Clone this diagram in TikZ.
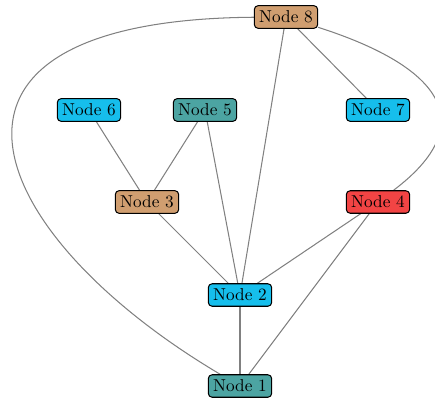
\documentclass[tikz,border=0pt]{standalone}
\usetikzlibrary{backgrounds}
\begin{document}
\begin{tikzpicture}[x=0.58pt,y=-0.58pt,
  nd/.style={draw=black,line width=0.6pt,rounded corners=2.2pt,inner xsep=2.8pt,inner ysep=3pt,minimum height=12.8pt,font=\fontsize{10}{12}\selectfont},
  tan/.style={nd,fill=tanc}, cyn/.style={nd,fill=cync}, tea/.style={nd,fill=teac}, rd/.style={nd,fill=redc},
  ed/.style={draw=gray,line width=0.6pt}]
\definecolor{tanc}{RGB}{208,158,112}
\definecolor{cync}{RGB}{22,190,236}
\definecolor{teac}{RGB}{76,164,162}
\definecolor{redc}{RGB}{242,68,68}
\useasboundingbox (0,0) rectangle (435,402);
\clip (0,0) rectangle (435,402);
\node[tan] (n8) at (286,17) {Node 8};
\node[cyn] (n6) at (89,110) {Node 6};
\node[tea] (n5) at (205,110) {Node 5};
\node[cyn] (n7) at (378,110) {Node 7};
\node[tan] (n3) at (147,202) {Node 3};
\node[rd] (n4) at (378,202) {Node 4};
\node[cyn] (n2) at (240,295) {Node 2};
\node[tea] (n1) at (240,386) {Node 1};
\begin{scope}[on background layer]
\path[ed] (n8) .. controls (-110,20) and (-15,235) .. (n1);
\path[ed] (n8) .. controls (445,68) and (480,125) .. (n4);
\path[ed] (n8) -- (n2);
\path[ed] (n8) -- (n7);
\path[ed] (n6) -- (n3);
\path[ed] (n5) -- (n3);
\path[ed] (n5) -- (n2);
\path[ed] (n3) -- (n2);
\path[ed] (n4) -- (n2);
\path[ed] (n4) -- (n1);
\path[ed] (n2) -- (n1);
\end{scope}
\end{tikzpicture}
\end{document}
